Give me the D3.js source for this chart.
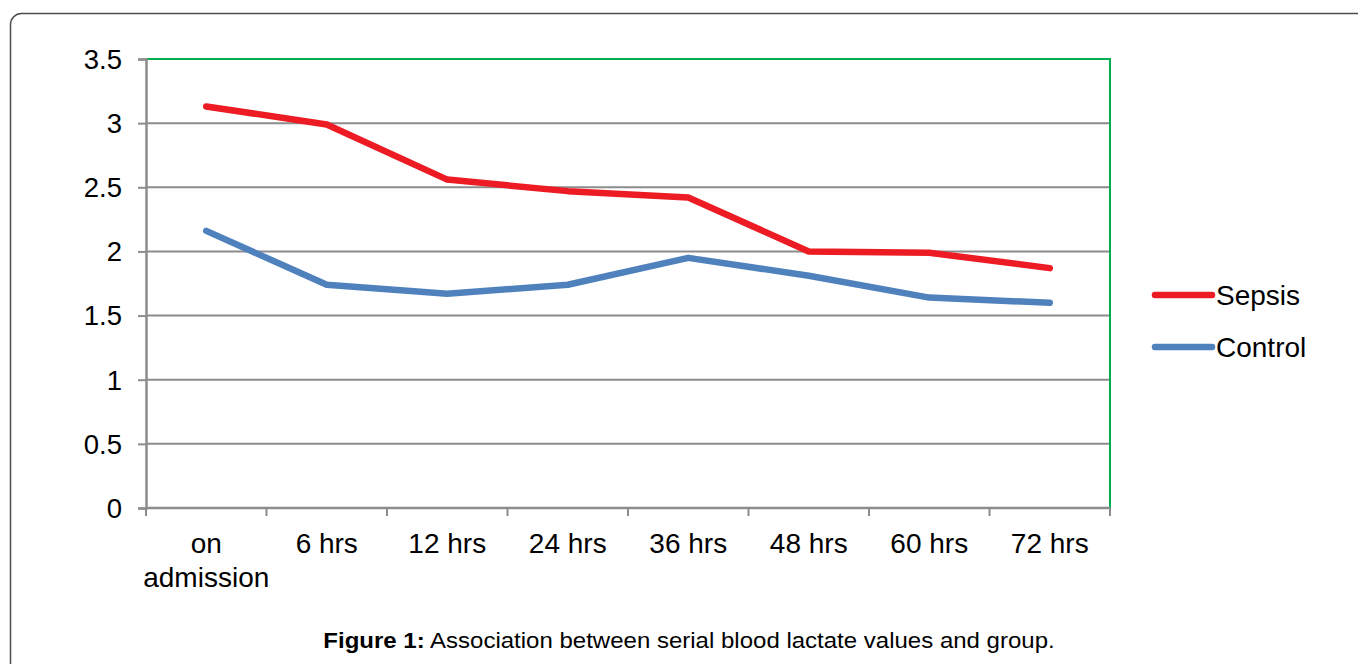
<!DOCTYPE html>
<html>
<head>
<meta charset="utf-8">
<script src="https://cdn.jsdelivr.net/npm/d3@7"></script>
<style>
  html, body { margin: 0; padding: 0; background: #fff; }
  svg { display: block; font-family: "Liberation Sans", Arial, sans-serif; }
</style>
</head>
<body>
<svg id="chart" width="1358" height="664"></svg>
<script>
// Time points after admission
const categories = ["on admission", "6 hrs", "12 hrs", "24 hrs", "36 hrs", "48 hrs", "60 hrs", "72 hrs"];
// Mean blood lactate per group
const sepsis  = [3.13, 2.99, 2.56, 2.47, 2.42, 2.00, 1.99, 1.87];
const control = [2.16, 1.74, 1.67, 1.74, 1.95, 1.81, 1.64, 1.60];
const yTicks = [0, 0.5, 1, 1.5, 2, 2.5, 3, 3.5];
const seriesNames = ["Sepsis", "Control"];
const seriesColors = ["#ED1C24", "#4F81BD"];

const FONT = "Liberation Sans, Arial, sans-serif";
const svg = d3.select("#chart");

// Figure frame
svg.append("rect")
  .attr("x", 10.5).attr("y", 13.5)
  .attr("width", 1400).attr("height", 700)
  .attr("rx", 11).attr("ry", 11)
  .attr("fill", "none").attr("stroke", "#4d4d4d").attr("stroke-width", 1.5);

const plotL = 146, plotR = 1110, plotT = 59, plotB = 508;

const x = d3.scaleBand().domain(categories).range([plotL, plotR]);
const y = d3.scaleLinear().domain([0, 3.5]).range([plotB, plotT]);

// Horizontal gridlines
svg.append("g").selectAll("line")
  .data(yTicks.filter(d => d > 0 && d < 3.5))
  .join("line")
  .attr("x1", plotL).attr("x2", plotR)
  .attr("y1", d => y(d)).attr("y2", d => y(d))
  .attr("stroke", "#8c8c8c").attr("stroke-width", 2);

// Top and right border of the plot area
svg.append("path")
  .attr("d", `M${plotL},${plotT}H${plotR}V${plotB}`)
  .attr("fill", "none").attr("stroke", "#00B050").attr("stroke-width", 2);

// Y axis
const yAxis = svg.append("g")
  .attr("transform", `translate(${plotL},0)`)
  .call(d3.axisLeft(y).tickValues(yTicks).tickSize(8).tickPadding(16).tickFormat(d3.format("")));
yAxis.select(".domain").attr("stroke", "#8c8c8c").attr("stroke-width", 2.5);
yAxis.selectAll(".tick line").attr("stroke", "#8c8c8c").attr("stroke-width", 2);
yAxis.selectAll(".tick text")
  .attr("fill", "#000").attr("font-size", 27.5).attr("font-family", FONT)
  .attr("dy", "0.34em");

// X axis with ticks at the category boundaries
const xAxisG = svg.append("g").attr("transform", `translate(0,${plotB})`);
xAxisG.append("line")
  .attr("x1", plotL).attr("x2", plotR)
  .attr("stroke", "#8c8c8c").attr("stroke-width", 2.5);
const boundaries = categories.map(c => x(c)).concat([x(categories[categories.length - 1]) + x.bandwidth()]);
xAxisG.selectAll(".xt").data(boundaries).join("line")
  .attr("class", "xt")
  .attr("x1", d => d).attr("x2", d => d)
  .attr("y1", 0).attr("y2", 8)
  .attr("stroke", "#8c8c8c").attr("stroke-width", 2);

const wrap = {"on admission": ["on", "admission"]};
const xl = xAxisG.selectAll(".xl").data(categories).join("text")
  .attr("class", "xl")
  .attr("text-anchor", "middle")
  .attr("font-size", 28)
  .attr("font-family", FONT)
  .attr("fill", "#000")
  .attr("x", d => x(d) + x.bandwidth() / 2)
  .attr("y", 45);
xl.each(function(d) {
  const lines = wrap[d] || [d];
  d3.select(this).selectAll("tspan").data(lines).join("tspan")
    .attr("x", x(d) + x.bandwidth() / 2)
    .attr("dy", (l, i) => i === 0 ? 0 : 34)
    .text(l => l);
});

// Series lines
const line = d3.line()
  .x((d, i) => x(categories[i]) + x.bandwidth() / 2)
  .y(d => y(d));

[sepsis, control].forEach((vals, k) => {
  svg.append("path")
    .datum(vals)
    .attr("d", line)
    .attr("fill", "none")
    .attr("stroke", seriesColors[k])
    .attr("stroke-width", 6.5)
    .attr("stroke-linecap", "round")
    .attr("stroke-linejoin", "round");
});

// Legend
const legend = svg.append("g").attr("transform", "translate(1155,295)");
seriesNames.forEach((name, k) => {
  const g = legend.append("g").attr("transform", `translate(0,${k * 52})`);
  g.append("line").attr("x1", 0).attr("x2", 57).attr("y1", 0).attr("y2", 0)
    .attr("stroke", seriesColors[k]).attr("stroke-width", 6.5).attr("stroke-linecap", "round");
  g.append("text").attr("x", 61).attr("y", 9.5)
    .attr("font-size", 28).attr("font-family", FONT).attr("fill", "#000").text(name);
});

// Caption, stretched horizontally to its set width
const capG = svg.append("g");
const cap = capG.append("text")
  .attr("x", 0).attr("y", 0)
  .attr("text-anchor", "middle")
  .attr("font-size", 21.5)
  .attr("font-family", FONT)
  .attr("fill", "#000");
cap.append("tspan").attr("font-weight", "bold").text("Figure 1:");
cap.append("tspan").text(" Association between serial blood lactate values and group.");
const capWidth = 732;
const sx = capWidth / cap.node().getComputedTextLength();
capG.attr("transform", `translate(689,648) scale(${sx},1)`);
</script>
</body>
</html>
